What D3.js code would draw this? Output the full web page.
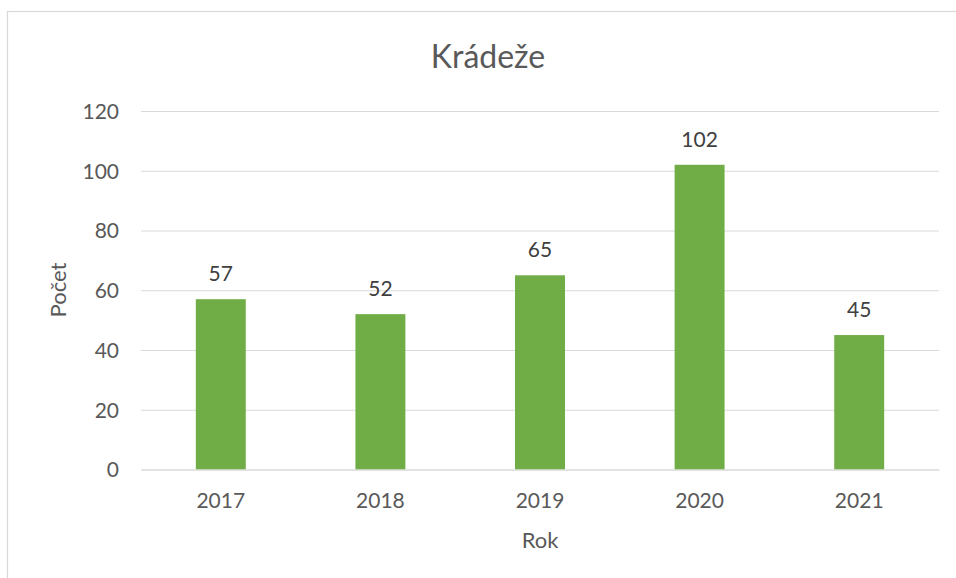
<!DOCTYPE html>
<html><head><meta charset="utf-8">
<script src="https://cdn.jsdelivr.net/npm/d3@7"></script>
<style>body{margin:0;background:#fff}svg{display:block}text{font-family:Lato,"Open Sans",sans-serif}</style>
</head><body><svg id="c" width="956" height="578"></svg>
<script>
const categories = ["2017","2018","2019","2020","2021"];
const values = [57,52,65,102,45];
const yTicks = [0,20,40,60,80,100,120];
const title = "Krádeže";
const xTitle = "Rok";
const yTitle = "Počet";

const svg = d3.select("#c");
svg.append("rect").attr("x",7.5).attr("y",11.5).attr("width",960).attr("height",600)
  .attr("fill","#fff").attr("stroke","#d9d9d9").attr("stroke-width",1.2);

const x = d3.scaleBand().domain(categories).range([141,939]).paddingInner(0.687).paddingOuter(0.3435);
const y = d3.scaleLinear().domain([0,120]).range([469.5,111]);

const gy = svg.append("g").attr("transform","translate(141,0)")
  .call(d3.axisLeft(y).tickValues(yTicks).tickSize(-798).tickPadding(22));
gy.select(".domain").remove();
gy.selectAll(".tick line").attr("stroke","#d9d9d9").attr("stroke-width",1.2);
gy.selectAll(".tick text").attr("fill","#595959").style("font-size","21px").attr("dy","0.35em");

svg.selectAll("rect.bar").data(values).enter().append("rect").attr("class","bar")
  .attr("x",(d,i)=>x(categories[i])).attr("width",x.bandwidth())
  .attr("y",d=>y(d)).attr("height",d=>y(0)-y(d)).attr("fill","#70ad47");

const gx = svg.append("g").attr("transform","translate(0,469.5)")
  .call(d3.axisBottom(x).tickSize(0).tickPadding(0));
gx.select(".domain").attr("stroke","#d9d9d9").attr("stroke-width",1.2);
gx.selectAll(".tick text").attr("fill","#595959").style("font-size","21px").attr("y",38).attr("dy",0);

svg.selectAll("text.lbl").data(values).enter().append("text").attr("class","lbl")
  .attr("x",(d,i)=>x(categories[i])+x.bandwidth()/2).attr("y",d=>y(d)-18)
  .attr("text-anchor","middle").attr("fill","#404040").style("font-size","21px").text(d=>d);

svg.append("text").attr("x",488).attr("y",68).attr("text-anchor","middle")
  .attr("fill","#595959").style("font-size","32px").text(title);
svg.append("text").attr("x",540).attr("y",548).attr("text-anchor","middle")
  .attr("fill","#595959").style("font-size","22px").text(xTitle);
svg.append("text").attr("transform","translate(66,290) rotate(-90)").attr("text-anchor","middle")
  .attr("fill","#595959").style("font-size","22px").text(yTitle);
</script></body></html>
